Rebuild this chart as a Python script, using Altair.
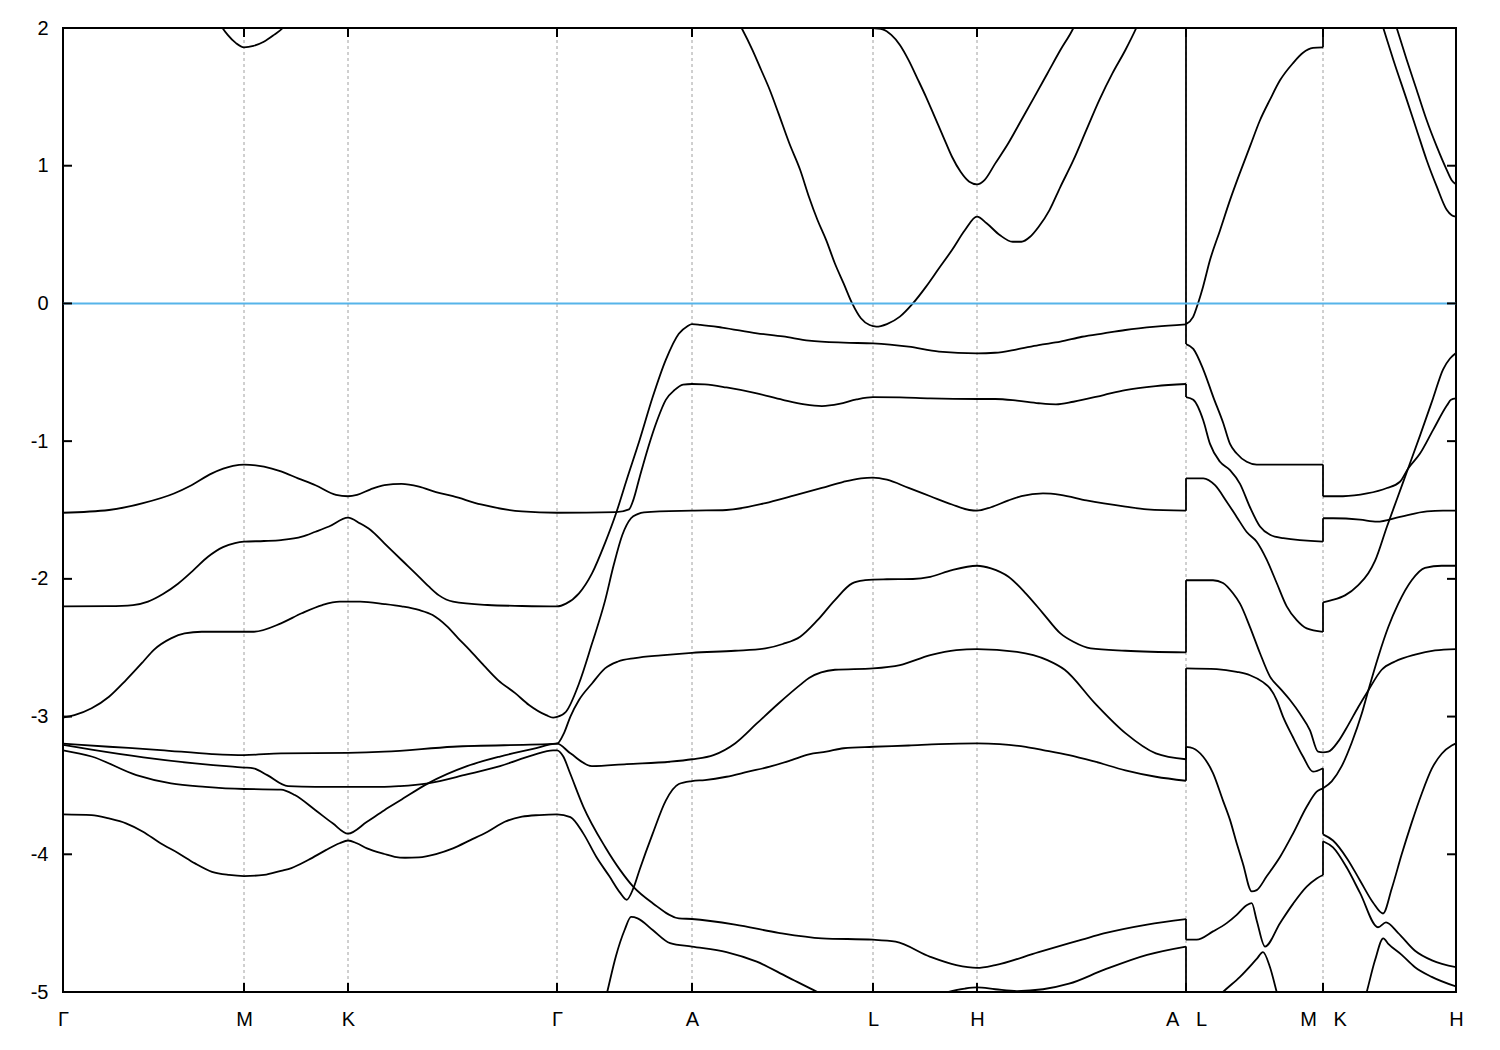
import altair as alt
import pandas as pd

NB = "\u00a0"
tick_k = [0, 181, 285, 494, 629, 810, 914, 1123, 1260, 1393]
tick_names = ["Γ", "M", "K", "Γ", "A", "L", "H", "A" + NB * 3 + "L", "M" + NB * 3 + "K", "H"]
y_ticks = [-5, -4, -3, -2, -1, 0, 1, 2]
fermi = [0]

cb1 = [(0, 2.9), (137, 2.25), (154, 2.07), (159.5, 2.0), (164.7, 1.95), (173, 1.89), (181, 1.86), (190.5, 1.87),
       (200.8, 1.90), (211, 1.95), (219.8, 2.0), (227, 2.07), (285, 2.6), (494, 3.0), (629, 2.6),
       (667, 2.15), (678.6, 2.0), (689.5, 1.84), (698.2, 1.695), (706.8, 1.55), (715.5, 1.38), (726.3, 1.163),
       (737.2, 0.969), (745.9, 0.775), (754.5, 0.606), (763.2, 0.46), (771.9, 0.29), (780.6, 0.146), (789.2, 0.0),
       (797.9, -0.108), (806.6, -0.157), (810, -0.165), (813.1, -0.169), (823.9, -0.15), (836.9, -0.096),
       (849.9, 0.0), (862.9, 0.12), (876, 0.255), (889, 0.388), (902, 0.533), (914, 0.63), (923.6, 0.582),
       (936.7, 0.497), (949.7, 0.448), (958.4, 0.448), (967.1, 0.484), (975.7, 0.557), (986.5, 0.678),
       (997.4, 0.847), (1010.4, 1.04), (1023.4, 1.26), (1036.4, 1.478), (1049.4, 1.67), (1062.4, 1.84),
       (1073.3, 2.0), (1085, 2.2), (1123, 2.8),
       (1123, -0.15), (1130, -0.10), (1135, 0.0), (1140, 0.12), (1147, 0.315), (1157, 0.53), (1167, 0.75),
       (1177, 0.95), (1187, 1.14), (1197, 1.33), (1207, 1.48), (1217, 1.62), (1230, 1.745), (1240, 1.82),
       (1250, 1.855), (1260, 1.86),
       (1260, 2.6), (1307, 2.3), (1320.3, 2.0), (1330.3, 1.77), (1343.7, 1.48), (1353.7, 1.26), (1363.7, 1.04),
       (1373.7, 0.85), (1383.7, 0.68), (1388.7, 0.64), (1393, 0.63)]

cb2 = [(0, 3.5), (494, 3.6), (629, 3.2), (780, 2.3), (797, 2.05), (810, 2.0), (819.6, 1.99), (828.3, 1.95),
       (836.9, 1.877), (845.6, 1.767), (854.3, 1.635), (863, 1.50), (871.6, 1.356), (880.3, 1.21), (889, 1.065),
       (897.6, 0.956), (906.3, 0.884), (914, 0.865), (921.5, 0.896), (932.3, 1.017), (945.3, 1.163),
       (958.4, 1.332), (971.4, 1.50), (984.4, 1.67), (997.4, 1.84), (1010.4, 2.0), (1022, 2.2), (1123, 3.0),
       (1123, 2.4), (1260, 2.3),
       (1260, 2.6), (1322, 2.27), (1333.7, 2.0), (1343.7, 1.77), (1353.7, 1.55), (1363.7, 1.33), (1373.7, 1.14),
       (1383.7, 0.97), (1388.7, 0.895), (1393, 0.865)]

vb1 = [(0, -2.20), (46, -2.198), (70, -2.19), (85, -2.165), (100, -2.11), (115, -2.035), (130, -1.94),
       (145, -1.84), (160, -1.77), (172, -1.74), (181, -1.73), (201, -1.725), (218, -1.718), (239, -1.694),
       (252.5, -1.658), (266, -1.62), (285, -1.556), (297, -1.597), (307.6, -1.645), (321.4, -1.742),
       (338.6, -1.863), (356, -1.985), (366, -2.057), (376, -2.12), (390, -2.166), (424.6, -2.19), (459, -2.197),
       (494, -2.20),
       (503, -2.18), (516, -2.105), (529, -1.96), (542, -1.74), (553, -1.525), (563.7, -1.28), (576.7, -0.99),
       (589.7, -0.68), (602.8, -0.41), (615.8, -0.22), (624.4, -0.165), (629, -0.15),
       (637.5, -0.155), (659, -0.175), (694, -0.217), (720, -0.24), (746, -0.27), (780.6, -0.285), (810, -0.29),
       (845.6, -0.314), (876, -0.35), (914, -0.362), (932, -0.358), (954, -0.333), (975.7, -0.302),
       (997.4, -0.278), (1019, -0.242), (1040.7, -0.217), (1062.4, -0.193), (1092.8, -0.169), (1123, -0.152),
       (1123, -0.295), (1130.3, -0.33), (1140.3, -0.48), (1150.3, -0.68), (1160.3, -0.87), (1167, -1.02),
       (1173.7, -1.09), (1183.7, -1.15), (1193.7, -1.17), (1260, -1.17),
       (1260, -1.40), (1280, -1.40), (1304, -1.38), (1324, -1.34), (1337, -1.295), (1345, -1.20), (1357, -1.09),
       (1370, -0.92), (1384, -0.74), (1388, -0.70), (1393, -0.69)]

vb2 = [(0, -1.52), (46, -1.50), (80, -1.45), (111, -1.38), (128.5, -1.32), (149, -1.234), (170, -1.18),
       (181, -1.17), (201, -1.185), (218, -1.22), (235, -1.27), (252.5, -1.32), (273, -1.39), (285, -1.40),
       (294, -1.39), (307.6, -1.35), (321.4, -1.32), (338.6, -1.31), (356, -1.33), (373, -1.37), (390, -1.40),
       (418, -1.46), (459, -1.51), (494, -1.52),
       (553, -1.515), (566, -1.495), (570.2, -1.43), (576.7, -1.26), (585.4, -1.04), (594.1, -0.85),
       (602.8, -0.70), (611.4, -0.63), (620.1, -0.59), (629, -0.585),
       (641.8, -0.588), (663.5, -0.61), (693.8, -0.653), (719.8, -0.70), (741.5, -0.733), (758.9, -0.745),
       (776.2, -0.73), (793.6, -0.697), (810, -0.68), (837, -0.682), (867.3, -0.69), (914, -0.694),
       (932.3, -0.694), (954, -0.706), (975.7, -0.725), (993, -0.733), (1010.4, -0.714), (1040.7, -0.665),
       (1062.4, -0.629), (1092.8, -0.60), (1123, -0.585),
       (1123, -0.68), (1130.3, -0.70), (1140.3, -0.85), (1147, -1.02), (1157, -1.15), (1167, -1.21),
       (1177, -1.31), (1187, -1.48), (1197, -1.62), (1207, -1.68), (1220.3, -1.705), (1260, -1.73),
       (1260, -1.56), (1270, -1.56), (1297, -1.57), (1314, -1.585), (1337, -1.55), (1364, -1.51),
       (1380, -1.505), (1393, -1.505)]

vb3 = [(0, -3.008), (11.4, -2.99), (28.6, -2.94), (46, -2.856), (63, -2.735), (80.3, -2.60), (90.6, -2.517),
       (108, -2.432), (121.6, -2.396), (138.8, -2.384), (181, -2.384), (190.5, -2.384), (218, -2.323),
       (238.7, -2.25), (259.4, -2.19), (276.6, -2.166), (297.2, -2.166), (321.4, -2.183), (338.6, -2.20),
       (355.8, -2.226), (369.6, -2.263), (383.3, -2.34), (395, -2.43), (407, -2.52), (421, -2.63),
       (435, -2.735), (452.2, -2.83), (466, -2.916), (483.2, -2.99), (490.1, -3.008),
       (494, -3.003),
       (503, -2.965), (516, -2.76), (529, -2.47), (542, -2.16), (550.7, -1.90), (559.4, -1.68),
       (568, -1.56), (574.6, -1.53), (581, -1.517), (629, -1.505),
       (663.5, -1.50), (702.5, -1.45), (728.5, -1.40), (758.9, -1.34), (780.5, -1.295), (798, -1.27),
       (810, -1.265), (823.9, -1.28), (845.6, -1.34), (867.3, -1.40), (889, -1.46), (906.3, -1.50),
       (914, -1.505), (928, -1.48), (945.5, -1.43), (958.4, -1.40), (980, -1.38), (997.4, -1.39),
       (1023.4, -1.43), (1062.4, -1.475), (1084.1, -1.495), (1123, -1.505),
       (1123, -1.27), (1140.3, -1.27), (1152, -1.32), (1163.7, -1.44), (1173.7, -1.55), (1183.7, -1.66),
       (1193.7, -1.73), (1203.7, -1.86), (1213.7, -2.03), (1223.7, -2.20), (1233.7, -2.30), (1243.7, -2.36),
       (1260, -2.385),
       (1260, -2.17), (1268.7, -2.155), (1282, -2.12), (1295.3, -2.045), (1305.3, -1.96), (1312, -1.87),
       (1324, -1.62), (1334, -1.42), (1345, -1.20), (1357, -0.96), (1370, -0.69), (1380, -0.48), (1387, -0.40),
       (1393, -0.36)]

vb4 = [(0, -3.197), (46, -3.219), (97.5, -3.243), (149, -3.272), (181, -3.28), (218, -3.267), (285, -3.263),
       (321.4, -3.255), (390, -3.219), (494, -3.197),
       (501, -3.12), (507.4, -3.0), (516, -2.88), (529, -2.76), (542, -2.65), (555, -2.60), (572, -2.575),
       (598, -2.555), (629, -2.537),
       (672, -2.522), (702.5, -2.505), (719.8, -2.473), (737.2, -2.42), (754.5, -2.30), (771.9, -2.154),
       (789.2, -2.033), (802.2, -2.01), (810, -2.005), (823.9, -2.003), (849.9, -2.001), (867.3, -1.985),
       (889, -1.936), (914, -1.905), (928, -1.924), (945.5, -1.985), (962.7, -2.105), (980, -2.25),
       (997.4, -2.396), (1010.4, -2.457), (1027.7, -2.505), (1062.4, -2.522), (1123, -2.534),
       (1123, -2.01), (1150, -2.01), (1160, -2.03), (1170, -2.105), (1177, -2.18), (1187, -2.35), (1197, -2.54),
       (1207, -2.71), (1217, -2.795), (1227, -2.88), (1237, -2.98), (1247, -3.10), (1255, -3.255), (1260, -3.26),
       (1265.3, -3.255), (1275.3, -3.18), (1285.3, -3.06), (1295.3, -2.93), (1305.3, -2.81), (1318.7, -2.66),
       (1332, -2.60), (1352, -2.55), (1372, -2.52), (1393, -2.51)]

vb5 = [(0, -3.245), (28.6, -3.29), (73.4, -3.425), (108, -3.485), (142.3, -3.51), (181, -3.526), (218, -3.53),
       (231.8, -3.57), (252.5, -3.68), (269.7, -3.775), (285, -3.85), (304, -3.764), (321.4, -3.68), (337, -3.61),
       (365, -3.485), (404, -3.36), (437, -3.29), (470, -3.235), (494, -3.197),
       (507.4, -3.267), (529, -3.36), (563.7, -3.345), (607, -3.328), (629, -3.31),
       (650.5, -3.28), (672, -3.195), (693.8, -3.05), (715.5, -2.905), (737.2, -2.77), (746, -2.72), (772, -2.66),
       (810, -2.65), (837, -2.626), (867.3, -2.553), (893.3, -2.517), (914, -2.51), (954, -2.53), (984.4, -2.59),
       (1001.7, -2.66), (1032, -2.904), (1062.4, -3.12), (1092.8, -3.267), (1123, -3.31),
       (1123, -2.65), (1153.7, -2.655), (1173.7, -2.675), (1187, -2.70), (1200, -2.75), (1207, -2.795),
       (1213.7, -2.88), (1220, -3.00), (1230, -3.15), (1240, -3.29), (1250, -3.40), (1260, -3.375),
       (1260, -3.855), (1270, -3.90), (1284, -4.03), (1297, -4.19), (1310, -4.35), (1320, -4.43), (1328.7, -4.25),
       (1338.7, -4.00), (1348.7, -3.77), (1358.7, -3.56), (1368.7, -3.38), (1378.7, -3.27), (1388.7, -3.21),
       (1393, -3.195)]

vb6 = [(0, -3.71), (28.6, -3.715), (46, -3.74), (63, -3.775), (80, -3.836), (97.5, -3.92), (115, -3.99),
       (132, -4.066), (149, -4.127), (166, -4.15), (181, -4.158), (201, -4.15), (218, -4.12), (228.4, -4.10),
       (245.6, -4.04), (262.8, -3.97), (276.6, -3.92), (285, -3.90), (293.8, -3.92), (304, -3.957),
       (321.4, -3.998), (331.7, -4.018), (342, -4.025), (355.8, -4.022), (373, -3.998), (390, -3.957),
       (407.4, -3.897), (424.6, -3.836), (441.8, -3.764), (459, -3.727), (476.3, -3.715), (494, -3.71),
       (507.4, -3.73), (520.4, -3.85), (533.4, -4.02), (546.4, -4.16), (557.2, -4.28), (563.7, -4.33),
       (570.2, -4.25), (576.7, -4.11), (589.7, -3.85), (602.8, -3.61), (615.8, -3.49), (629, -3.468),
       (641.8, -3.461), (663.5, -3.437), (685.2, -3.40), (706.8, -3.364), (728.5, -3.316), (745.9, -3.274),
       (763.2, -3.255), (780.6, -3.23), (810, -3.219), (845.6, -3.21), (876, -3.20), (914, -3.195),
       (936.7, -3.20), (962.7, -3.22), (980, -3.243), (1006.1, -3.28), (1032.1, -3.328), (1062.4, -3.39),
       (1092.8, -3.437), (1123, -3.466),
       (1123, -3.22), (1130, -3.23), (1140, -3.29), (1150, -3.41), (1160, -3.61), (1167, -3.75), (1173.7, -3.92),
       (1180, -4.07), (1188.7, -4.27), (1193.7, -4.26), (1203.7, -4.16), (1217, -4.02), (1230, -3.85),
       (1243.7, -3.655), (1253.7, -3.545), (1260, -3.52),
       (1268.7, -3.47), (1278.7, -3.36), (1288.7, -3.19), (1298.7, -2.98), (1305.3, -2.81), (1315.3, -2.565),
       (1325.3, -2.35), (1335.3, -2.18), (1348.7, -2.01), (1362, -1.92), (1378.7, -1.905), (1393, -1.905)]

vb7 = [(0, -3.205), (28.6, -3.24), (80.3, -3.296), (132, -3.34), (169.8, -3.364), (181, -3.37), (190.5, -3.376),
       (204.3, -3.425), (225, -3.505), (252.5, -3.51), (285, -3.51), (321.4, -3.51), (337, -3.505),
       (365, -3.485), (404, -3.42), (437, -3.36), (470, -3.28), (490, -3.245), (494, -3.245),
       (500.3, -3.29), (507, -3.41), (520.4, -3.655), (542, -3.945), (557.2, -4.115), (570.2, -4.235),
       (589.7, -4.355), (615.8, -4.465), (629, -4.47),
       (672.1, -4.51), (715.5, -4.57), (758.9, -4.61), (810, -4.62), (832.6, -4.635), (867.3, -4.745),
       (893.3, -4.805), (914, -4.825), (932.3, -4.805), (975.7, -4.71), (1019, -4.62), (1040.7, -4.575),
       (1084.1, -4.51), (1123, -4.47),
       (1123, -4.62), (1133.7, -4.62), (1150, -4.56), (1163.7, -4.50), (1173.7, -4.44), (1183.7, -4.37),
       (1188.7, -4.355), (1193.7, -4.48), (1202, -4.67), (1217, -4.50), (1230, -4.36), (1243.7, -4.235),
       (1253.7, -4.175), (1260, -4.15),
       (1260, -3.905), (1270, -3.95), (1284, -4.10), (1297, -4.28), (1315, -4.53), (1323, -4.495), (1335, -4.57),
       (1352, -4.70), (1369, -4.77), (1393, -4.82)]

vb8 = [(494, -5.7), (535, -5.27), (544.2, -5.0), (552.9, -4.74), (561.6, -4.55), (568.1, -4.455), (574.6, -4.465),
       (589.7, -4.55), (607.1, -4.645), (629, -4.67),
       (663.5, -4.71), (693.8, -4.78), (724.2, -4.89), (754.5, -5.0), (817, -5.2), (884.6, -5.0), (902, -4.975),
       (914, -4.967), (932.3, -4.98), (954, -4.993), (980, -4.98), (1006, -4.94), (1040.7, -4.84),
       (1084.1, -4.73), (1123, -4.67),
       (1123, -5.3), (1160, -5.0), (1177, -4.89), (1193.7, -4.76), (1200, -4.71), (1207, -4.82), (1213.7, -5.0),
       (1227, -5.4), (1260, -5.6),
       (1292, -5.3), (1303.7, -5.0), (1312, -4.77), (1320.3, -4.61), (1325.3, -4.65), (1338.7, -4.73),
       (1352, -4.82), (1368.7, -4.89), (1393, -4.96)]

bands = {"cb1": cb1, "cb2": cb2, "vb1": vb1, "vb2": vb2, "vb3": vb3, "vb4": vb4,
         "vb5": vb5, "vb6": vb6, "vb7": vb7, "vb8": vb8}

# split each band into continuous pieces; the jumps between pieces
# (same k, two energies) become vertical connectors as in the original plot
rows, jumps = [], []
for name, pts in bands.items():
    piece = 0
    prev = None
    for i, (k, e) in enumerate(pts):
        if prev is not None and k == prev[0]:
            jumps.append({"k": k, "E": prev[1], "E2": e})
            piece += 1
        rows.append({"seg": f"{name}_{piece}", "i": i, "k": k, "E": e})
        prev = (k, e)
df = pd.DataFrame(rows)
df_jump = pd.DataFrame(jumps)

W, H = 1393, 964
TL = 9
LW = 1.8
xs = alt.Scale(domain=[0, 1393], nice=False, zero=False)
ys = alt.Scale(domain=[-5, 2], nice=False, zero=False)

label_expr = ""
for k, n in zip(tick_k, tick_names):
    label_expr += f"datum.value == {k} ? '{n}' : "
label_expr += "''"

x_axis = alt.Axis(values=tick_k, labelExpr=label_expr, title=None, ticks=False, tickSize=0, domain=False,
                  grid=False, labelPadding=17, labelOverlap=False, labelFlush=False, labelBound=False)
y_axis = alt.Axis(values=y_ticks, labelExpr="datum.value + ''", title=None, ticks=False, tickSize=0,
                  domain=False, grid=False, labelPadding=15, labelOverlap=False)

df_xt = pd.DataFrame({"k": tick_k})
df_grid = pd.DataFrame({"k": tick_k[1:-1]})
df_yt = pd.DataFrame({"E": y_ticks})
df_zero = pd.DataFrame({"E": fermi})

grid = alt.Chart(df_grid).mark_rule(color="#a0a0a0", strokeDash=[3, 3], strokeWidth=1).encode(
    x=alt.X("k:Q", scale=xs, axis=x_axis), y=alt.value(0), y2=alt.value(H))

lines = alt.Chart(df).mark_line(clip=True, color="black", strokeWidth=LW, interpolate="monotone").encode(
    x=alt.X("k:Q", scale=xs, axis=x_axis),
    y=alt.Y("E:Q", scale=ys, axis=y_axis),
    detail="seg:N",
    order="i:Q",
)

jump = alt.Chart(df_jump).mark_rule(clip=True, color="black", strokeWidth=LW).encode(
    x=alt.X("k:Q", scale=xs, axis=x_axis),
    y=alt.Y("E:Q", scale=ys, axis=y_axis),
    y2="E2:Q",
)

zero = alt.Chart(df_zero).mark_rule(color="#56b4e9", strokeWidth=2).encode(
    y=alt.Y("E:Q", scale=ys, axis=y_axis), x=alt.value(0), x2=alt.value(W))

ytl = alt.Chart(df_yt).mark_rule(color="black", strokeWidth=2).encode(
    y=alt.Y("E:Q", scale=ys, axis=y_axis), x=alt.value(0), x2=alt.value(TL))
ytr = alt.Chart(df_yt).mark_rule(color="black", strokeWidth=2).encode(
    y=alt.Y("E:Q", scale=ys, axis=y_axis), x=alt.value(W - TL), x2=alt.value(W))
xtb = alt.Chart(df_xt).mark_rule(color="black", strokeWidth=2).encode(
    x=alt.X("k:Q", scale=xs, axis=x_axis), y=alt.value(H), y2=alt.value(H - TL))
xtt = alt.Chart(df_xt).mark_rule(color="black", strokeWidth=2).encode(
    x=alt.X("k:Q", scale=xs, axis=x_axis), y=alt.value(0), y2=alt.value(TL))

chart = alt.layer(grid, lines, jump, zero, ytl, ytr, xtb, xtt).properties(
    width=W, height=H,
    padding={"left": 55, "top": 20, "right": 30, "bottom": 50},
    autosize=alt.AutoSizeParams(type="none"),
).configure_view(stroke="black", strokeWidth=2).configure_axis(
    labelFont="Liberation Sans", labelFontSize=20, labelColor="black"
)

chart.save("out.html", embed_options={"renderer": "svg", "actions": False})
